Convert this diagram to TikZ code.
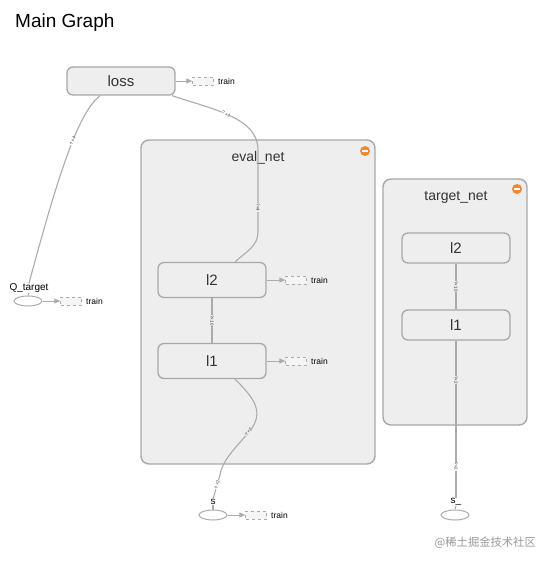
\documentclass[tikz,border=0pt]{standalone}
\usepackage{fontspec}
\setmainfont{Liberation Sans}
\newfontfamily\cjk{Noto Sans CJK SC}
\usetikzlibrary{shapes.geometric,arrows.meta}
\definecolor{edgec}{HTML}{ABABAB}
\definecolor{boxfill}{HTML}{EEEEEE}
\definecolor{boxline}{HTML}{A8A8A8}
\definecolor{txt}{HTML}{333333}
\definecolor{orng}{HTML}{F0892F}
\tikzset{
  opnode/.style={draw=boxline, fill=boxfill, line width=1.3pt, rounded corners=6pt,
    minimum width=108pt, minimum height=33pt, inner sep=0pt, text=txt, font=\fontsize{15}{15}\selectfont},
  tnode/.style={opnode, minimum height=30pt},
  group/.style={draw=boxline, fill=boxfill, line width=1.4pt, rounded corners=8pt, inner sep=0pt},
  grouptitle/.style={text=txt, font=\fontsize{14}{14}\selectfont},
  phnode/.style={ellipse, draw=edgec, fill=white, line width=1pt, minimum width=28pt, minimum height=10pt, inner sep=0pt},
  trainbox/.style={draw=edgec, dashed, fill=boxfill!60, line width=0.5pt, minimum width=21pt, minimum height=8pt, inner sep=0pt},
  trainlbl/.style={font=\fontsize{8.5}{8.5}\selectfont, text=black, anchor=west, inner sep=0pt},
  phlbl/.style={font=\fontsize{10}{10}\selectfont, text=black, inner sep=0pt},
  edge/.style={draw=edgec, line width=1.1pt},
  tedge/.style={draw=edgec, line width=1pt, -{Triangle[length=6pt,width=5pt]}},
  elbl/.style={font=\fontsize{4.5}{4.5}\selectfont, text=txt, sloped, fill=boxfill, inner sep=0.3pt},
  elblw/.style={elbl, fill=white},
}
\begin{document}
\begin{tikzpicture}[x=1pt,y=-1pt]
\useasboundingbox[fill=white] (0,0) rectangle (549,565);
\node[anchor=west, font=\fontsize{19}{19}\selectfont, text=black, inner sep=0pt] (title) at (15,23) {Main Graph};

% groups
\node[group, minimum width=234pt, minimum height=324pt] (eval) at (258,302) {};
\node[grouptitle] (evalt) at (258,158) {eval\_net};
\node[circle, fill=orng, minimum size=10pt, inner sep=0pt] (evali) at (365,151) {};
\draw[white, line width=1.6pt] ([xshift=-3pt]evali.center) -- ([xshift=3pt]evali.center);

\node[group, minimum width=144pt, minimum height=246pt] (target) at (455,302) {};
\node[grouptitle] (targett) at (456,197) {target\_net};
\node[circle, fill=orng, minimum size=10pt, inner sep=0pt] (targeti) at (517,189) {};
\draw[white, line width=1.6pt] ([xshift=-3pt]targeti.center) -- ([xshift=3pt]targeti.center);

% op nodes
\node[opnode, minimum height=28pt] (loss) at (121,81) {loss};
\node[opnode, minimum height=35pt] (el2) at (212,280) {l2};
\node[opnode, minimum height=35pt] (el1) at (212,361) {l1};
\node[tnode] (tl2) at (456,248) {l2};
\node[tnode] (tl1) at (456,325) {l1};

% placeholders
\node[phnode] (q) at (28,301) {};
\node[phlbl] (ql) at (29,288) {Q\_target};
\node[phnode] (s) at (213,515) {};
\node[phlbl] (sl) at (213,502) {s};
\node[phnode] (s2) at (455,515) {};
\node[phlbl] (s2l) at (456,502) {s\_};

% train boxes
\node[trainbox] (lt) at (203,81) {};
\node[trainlbl] at (218,81) {train};
\node[trainbox] (qt) at (71,301) {};
\node[trainlbl] at (86,301) {train};
\node[trainbox] (l2t) at (296,280) {};
\node[trainlbl] at (311,280) {train};
\node[trainbox] (l1t) at (296,361) {};
\node[trainlbl] at (311,361) {train};
\node[trainbox] (st) at (256,515) {};
\node[trainlbl] at (271,515) {train};

\draw[tedge] (loss.east) -- (lt.west);
\draw[tedge] (q.east) -- (qt.west);
\draw[tedge] (el2.east) -- (l2t.west);
\draw[tedge] (el1.east) -- (l1t.west);
\draw[tedge] (s.east) -- (st.west);

% data edges
\coordinate (lossq) at ([xshift=-21pt]loss.south);
\draw[edge] (lossq) .. controls (80,112) and (62,160) .. node[elblw, pos=0.45] {?\,×4} (ql.north);
\draw[edge] (ql.south) -- (q.north);

\coordinate (lossr) at ([xshift=51pt]loss.south);
\coordinate (el2top) at ([xshift=23pt]el2.north);
\draw[edge] (lossr) .. controls (215,110) and (258,118) .. node[elblw, pos=0.45] {?\,×4} (258,150)
  -- node[elbl, pos=0.7] {?×4} (258,232) .. controls (258,246) and (246,252) .. (el2top);

\draw[edge] (el2.south) -- node[elbl] {?×10} (el1.south |- el1.north);

\coordinate (el1bot) at ([xshift=23pt]el1.south);
\draw[edge] (el1bot) .. controls (252,396) and (264,410) .. (252,428)
  .. controls (238,446) and (223,458) .. node[elbl, pos=0.08] {?\,×2} (220,475) -- node[elblw, pos=0.4] {?\,×2} (sl.north);
\draw[edge] (sl.south) -- (s.north);

\draw[edge] (tl2.south) -- node[elbl] {?×10} (tl1.north);
\draw[edge] (tl1.south) -- node[elbl, pos=0.25] {?×2} node[elblw, pos=0.8] {?×2} (s2l.north);
\draw[edge] (s2l.south) -- (s2.north);

\node[font=\cjk\fontsize{11.3}{11.3}\selectfont, text=black!40, anchor=east, inner sep=0pt] (wm) at (536,543) {@稀土掘金技术社区};
\end{tikzpicture}
\end{document}
